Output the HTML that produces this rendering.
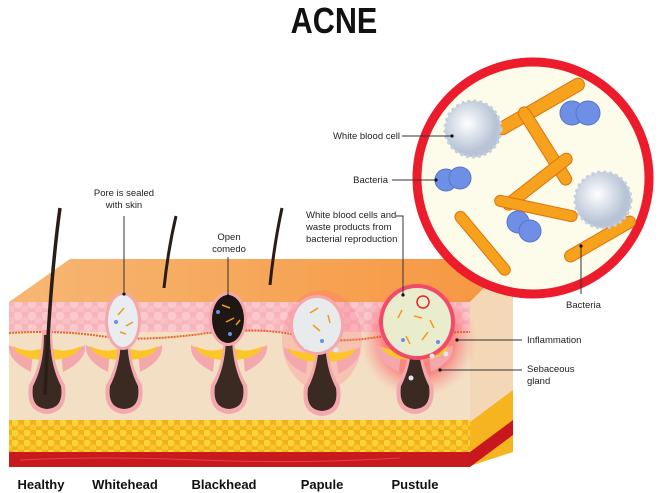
<!DOCTYPE html>
<html><head><meta charset="utf-8"><style>
html,body{margin:0;padding:0;background:#fff;}
svg{display:block;font-family:"Liberation Sans",sans-serif;}
.l{font-size:9.5px;fill:#222;}
.b{font-size:13px;font-weight:bold;fill:#111;}
</style></head><body>
<svg width="668" height="493" viewBox="0 0 668 493" xmlns="http://www.w3.org/2000/svg">
<defs>
<linearGradient id="top" x1="0" y1="0" x2="1" y2="0"><stop offset="0" stop-color="#f6b774"/><stop offset="1" stop-color="#f7963f"/></linearGradient>
<radialGradient id="glow"><stop offset="0.6" stop-color="#ff2a3a" stop-opacity="0.9"/><stop offset="1" stop-color="#ff6a7a" stop-opacity="0"/></radialGradient>
<radialGradient id="wbc" cx="0.4" cy="0.4"><stop offset="0" stop-color="#fff"/><stop offset="1" stop-color="#b8c4d6"/></radialGradient>
<pattern id="fat" width="12" height="10" patternUnits="userSpaceOnUse"><rect width="12" height="10" fill="#f2b01a"/><circle cx="3" cy="3" r="3.6" fill="#fdd33a"/><circle cx="9" cy="8" r="3.6" fill="#fcc72c"/></pattern>
<pattern id="cells" width="14" height="12" patternUnits="userSpaceOnUse"><rect width="14" height="12" fill="#f5b5bb"/><circle cx="4" cy="4" r="4.5" fill="#fbc9cd"/><circle cx="11" cy="10" r="4.5" fill="#f9bfc4"/></pattern>
<g id="f">
 <path d="M-16,372 Q-40,360 -38,345 Q-30,350 -14,352 Z" fill="#f4a8ad"/>
 <path d="M16,372 Q40,360 38,345 Q30,350 14,352 Z" fill="#f4a8ad"/>
 <path d="M-6,360 Q-30,358 -34,346 Q-18,354 -4,348 Z" fill="#fcc62a"/>
 <path d="M6,360 Q30,358 34,346 Q18,354 4,348 Z" fill="#fcc62a"/>
 <path d="M-5,330 Q-5,365 -18,385 Q-22,412 0,414 Q22,412 18,385 Q5,365 5,330 Z" fill="#f4a8ad"/>
 <path d="M-3,335 Q-3,365 -14,386 Q-17,408 0,409 Q17,408 14,386 Q3,365 3,335 Z" fill="#3a2a22"/>
</g>
</defs>
<text x="334" y="33" text-anchor="middle" style="font-size:36px;font-weight:bold;fill:#111" transform="translate(334 0) scale(0.85 1) translate(-334 0)">ACNE</text>

<polygon points="455,255 612,255 500,300 470,340 455,340" fill="#fbf1b8" opacity="0.7"/>
<polygon points="9,302 70,259 513,259 470,302" fill="url(#top)"/>
<polygon points="470,302 513,259 513,410 470,466" fill="#f3d7b6"/>
<polygon points="470,422 513,390 513,452 470,466" fill="#f6b51e"/>
<polygon points="470,452 513,420 513,435 470,467" fill="#c8181e"/>
<rect x="9" y="302" width="461" height="164" fill="#f3dfc4"/>
<path d="M9,302 H470 V330 Q440,336 420,332 H9 Z" fill="url(#cells)"/>
<path d="M9,333 Q60,330 100,336 T200,334 T300,336 T400,333 L470,332" fill="none" stroke="#e5672a" stroke-width="2" stroke-dasharray="2 1"/>
<rect x="9" y="420" width="461" height="34" fill="url(#fat)"/>
<rect x="9" y="452" width="461" height="15" fill="#c8191f"/>
<path d="M20,460 Q100,456 200,460 T400,458" stroke="#e54046" fill="none"/>

<ellipse cx="322" cy="340" rx="40" ry="50" fill="#ff6a7a" opacity="0.25"/>
<circle cx="418" cy="340" r="58" fill="url(#glow)" opacity="0.55"/>

<use href="#f" x="47" y="0"/>
<use href="#f" x="124" y="0"/>
<use href="#f" x="229" y="0"/>
<use href="#f" x="322" y="2"/>
<use href="#f" x="415" y="0"/>
<path d="M45,395 Q50,280 60,208" stroke="#2a1d17" stroke-width="3.5" fill="none"/>
<path d="M164,288 Q168,250 176,216" stroke="#2a1d17" stroke-width="3" fill="none"/>
<path d="M270,285 Q274,245 282,208" stroke="#2a1d17" stroke-width="3" fill="none"/>
<ellipse cx="123" cy="321" rx="18" ry="29" fill="#f4a8ad"/>
<ellipse cx="123" cy="321" rx="15" ry="26" fill="#e9edf0"/>
<ellipse cx="228" cy="319" rx="19" ry="27" fill="#f4a8ad"/>
<ellipse cx="228" cy="319" rx="16" ry="24" fill="#1e1714"/>
<ellipse cx="317" cy="325" rx="27" ry="30" fill="#f4a8ad"/>
<ellipse cx="317" cy="325" rx="24" ry="27" fill="#e7ebec"/>
<circle cx="417" cy="322" r="38" fill="#f24b6a"/>
<circle cx="417" cy="322" r="34" fill="#e9eccd"/>
<circle cx="423" cy="302" r="6" fill="none" stroke="#e22" stroke-width="1.5"/>
<g stroke="#f29a1c" stroke-width="1.5">
<line x1="118" y1="315" x2="124" y2="308"/><line x1="126" y1="326" x2="133" y2="322"/><line x1="120" y1="332" x2="126" y2="334"/>
<line x1="222" y1="305" x2="230" y2="308"/><line x1="226" y1="322" x2="234" y2="318"/><line x1="236" y1="325" x2="240" y2="320"/>
<line x1="310" y1="313" x2="318" y2="308"/><line x1="328" y1="315" x2="330" y2="323"/><line x1="313" y1="325" x2="320" y2="331"/>
<line x1="398" y1="318" x2="402" y2="310"/><line x1="414" y1="316" x2="422" y2="318"/><line x1="430" y1="320" x2="434" y2="328"/><line x1="406" y1="336" x2="410" y2="344"/><line x1="422" y1="340" x2="428" y2="332"/>
</g>
<g fill="#6c8ee8"><circle cx="116" cy="322" r="2"/><circle cx="218" cy="312" r="2"/><circle cx="230" cy="334" r="2"/><circle cx="322" cy="341" r="2"/><circle cx="403" cy="340" r="2"/><circle cx="438" cy="342" r="2"/></g>
<g fill="#e2e6f2"><circle cx="306" cy="347" r="2.5"/><circle cx="336" cy="350" r="2.5"/><circle cx="398" cy="345" r="2.5"/><circle cx="432" cy="356" r="2.5"/><circle cx="446" cy="354" r="2.5"/><circle cx="411" cy="378" r="2.5"/></g>

<circle cx="533" cy="178" r="116" fill="#fdfcea" stroke="#ec1c2c" stroke-width="9"/>
<g fill="#f7a21c" stroke="#e07010" stroke-width="1">
<rect x="490" y="100" width="100" height="13" rx="6.5" transform="rotate(-30 540 106)"/>
<rect x="500" y="140" width="90" height="12" rx="6" transform="rotate(58 545 146)"/>
<rect x="495" y="176" width="85" height="12" rx="6" transform="rotate(-38 537 182)"/>
<rect x="494" y="203" width="84" height="11" rx="5.5" transform="rotate(12 536 208)"/>
<rect x="443" y="238" width="80" height="11" rx="5.5" transform="rotate(50 483 243)"/>
<rect x="560" y="233" width="80" height="12" rx="6" transform="rotate(-30 600 239)"/>
</g>
<g fill="#6f8fe6" stroke="#5775cf"><circle cx="572" cy="113" r="12"/><circle cx="588" cy="113" r="12"/><circle cx="446" cy="180" r="11"/><circle cx="460" cy="178" r="11"/><circle cx="518" cy="222" r="11"/><circle cx="530" cy="231" r="11"/></g>
<circle cx="473" cy="129" r="28" fill="url(#wbc)" stroke="#c3d0e0" stroke-width="3" stroke-dasharray="3 3"/>
<circle cx="603" cy="200" r="28" fill="url(#wbc)" stroke="#c3d0e0" stroke-width="3" stroke-dasharray="3 3"/>

<g stroke="#333" stroke-width="1" fill="none">
<polyline points="402,136 452,136"/><polyline points="392,180 436,180"/>
<polyline points="124,216 124,292"/><polyline points="228,257 228,296"/>
<polyline points="396,216 403,216 403,295"/>
<polyline points="581,246 581,294"/>
<polyline points="457,340 522,340"/><polyline points="440,370 522,370"/>
</g>
<g fill="#111"><circle cx="452" cy="136" r="1.6"/><circle cx="436" cy="180" r="1.6"/><circle cx="124" cy="294" r="1.6"/><circle cx="228" cy="296" r="1.6"/><circle cx="403" cy="295" r="1.6"/><circle cx="581" cy="246" r="1.6"/><circle cx="457" cy="340" r="1.6"/><circle cx="440" cy="370" r="1.6"/></g>
<text class="l" x="400" y="139" text-anchor="end">White blood cell</text>
<text class="l" x="388" y="183" text-anchor="end">Bacteria</text>
<text class="l" x="124" y="196" text-anchor="middle">Pore is sealed</text>
<text class="l" x="124" y="208" text-anchor="middle">with skin</text>
<text class="l" x="229" y="240" text-anchor="middle">Open</text>
<text class="l" x="229" y="252" text-anchor="middle">comedo</text>
<text class="l" x="306" y="218">White blood cells and</text>
<text class="l" x="306" y="230">waste products from</text>
<text class="l" x="306" y="242">bacterial reproduction</text>
<text class="l" x="566" y="308">Bacteria</text>
<text class="l" x="527" y="343">Inflammation</text>
<text class="l" x="527" y="372">Sebaceous</text>
<text class="l" x="527" y="384">gland</text>
<text class="b" x="41" y="489" text-anchor="middle">Healthy</text>
<text class="b" x="125" y="489" text-anchor="middle">Whitehead</text>
<text class="b" x="224" y="489" text-anchor="middle">Blackhead</text>
<text class="b" x="322" y="489" text-anchor="middle">Papule</text>
<text class="b" x="415" y="489" text-anchor="middle">Pustule</text>
</svg>
</body></html>
